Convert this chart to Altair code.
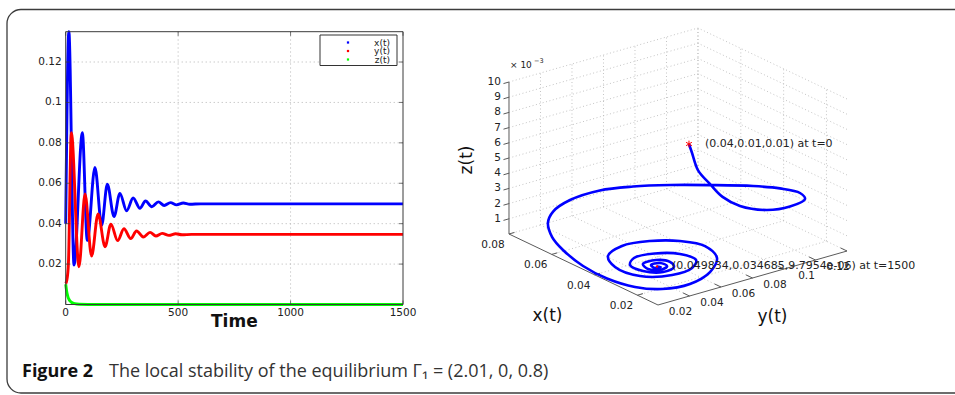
import altair as alt
import numpy as np
import pandas as pd

# ------------------------------------------------------------------
# Data
# ------------------------------------------------------------------
series_names = ["x(t)", "y(t)", "z(t)"]
series_colors = ["#0000ff", "#ff0000", "#00ff00"]

# x(t): start, peaks and troughs of the damped oscillation
t_x = [0, 14, 37, 74, 96, 130, 160, 185, 215, 241, 271, 300, 330, 355, 383, 412, 438, 466, 493, 523, 552, 600, 1500]
x_vals = [0.040, 0.142, 0.0195, 0.085, 0.0316, 0.0678, 0.0393, 0.0595, 0.0435, 0.0550, 0.0464, 0.0527,
          0.0476, 0.0512, 0.0484, 0.0508, 0.0490, 0.0504, 0.0493, 0.0502, 0.0496, 0.0498, 0.0498]

# y(t)
t_y = [0, 5, 12, 25, 59, 86, 115, 144, 175, 201, 231, 259, 289, 315, 345, 375, 401, 429, 459, 489, 517, 560, 1500]
y_vals = [0.0104, 0.012, 0.020, 0.085, 0.0187, 0.0547, 0.024, 0.0448, 0.0286, 0.0398, 0.0316, 0.0375,
          0.0326, 0.0364, 0.0334, 0.0357, 0.0339, 0.0352, 0.0342, 0.0350, 0.0345, 0.0347, 0.0347]

# z(t)
t_z = [0, 3, 6, 10, 15, 20, 27, 40, 60, 100, 1500]
z_vals = [0.0100, 0.0075, 0.0055, 0.0038, 0.0025, 0.0017, 0.0010, 0.0004, 0.0001, 0.00002, 0.0]

ticks_t = [0, 500, 1000, 1500]
ticks_v = [0.02, 0.04, 0.06, 0.08, 0.10, 0.12]
T_DOMAIN = [0, 1500]
V_DOMAIN = [0, 0.135]
time_title = "Time"

# 3-D phase portrait (x, y, z) as read against the drawn 3-D axes
traj_x = [0.0105, 0.0102, 0.0114, 0.0140, 0.0132, 0.0111, 0.0095, 0.0113, 0.0161, 0.0225, 0.0307, 0.0387,
          0.0487, 0.0576, 0.0650, 0.0703, 0.0715, 0.0730, 0.0688, 0.0622, 0.0561, 0.0465, 0.0351, 0.0255,
          0.0195, 0.0177, 0.0215, 0.0289, 0.0383, 0.0458, 0.0510, 0.0529, 0.0492, 0.0412, 0.0313, 0.0263,
          0.0271, 0.0313, 0.0378, 0.0425, 0.0434, 0.0398, 0.0339, 0.0297, 0.0309, 0.0347, 0.0383, 0.0382,
          0.0342, 0.0315, 0.0327, 0.0358, 0.0361, 0.0336, 0.0332, 0.0342]
traj_y = [0.0198, 0.0213, 0.0268, 0.0379, 0.0448, 0.0530, 0.0679, 0.0850, 0.1011, 0.1066, 0.1050, 0.0989,
          0.0851, 0.0718, 0.0584, 0.0445, 0.0272, 0.0185, 0.0095, 0.0032, 0.0018, 0.0015, 0.0012, 0.0059,
          0.0149, 0.0302, 0.0481, 0.0626, 0.0678, 0.0620, 0.0501, 0.0349, 0.0210, 0.0146, 0.0170, 0.0306,
          0.0443, 0.0526, 0.0512, 0.0417, 0.0296, 0.0222, 0.0224, 0.0295, 0.0380, 0.0406, 0.0367, 0.0282,
          0.0260, 0.0312, 0.0361, 0.0358, 0.0305, 0.0296, 0.0328, 0.0317]
traj_z = [0.0100, 0.0094, 0.0080, 0.0066, 0.0056, 0.0049, 0.0043, 0.0039, 0.0036, 0.0034, 0.0032, 0.0030,
          0.0028, 0.0026, 0.0024, 0.0022, 0.0020, 0.0014, 0.0012, 0.0009, 0.0005, 0.0001, 0.00005, 0.0,
          0.0, 0.0, 0.0, 0.0, 0.0, 0.0, 0.0, 0.0, 0.0, 0.0, 0.0, 0.0,
          0.0, 0.0, 0.0, 0.0, 0.0, 0.0, 0.0, 0.0, 0.0, 0.0, 0.0, 0.0,
          0.0, 0.0, 0.0, 0.0, 0.0, 0.0, 0.0, 0.0]

start_state = [0.04, 0.01, 0.01]
start_time = 0
end_state = [0.049834, 0.034685, 9.7954e-06]
end_time = 1500

box_x = [0.0104, 0.08]
box_y = [0.0, 0.12]
box_z = [0.0, 0.01]
ticks3_x = [0.02, 0.04, 0.06, 0.08]
ticks3_y = [0.02, 0.04, 0.06, 0.08, 0.10, 0.12]
ticks3_z = [0.001, 0.002, 0.003, 0.004, 0.005, 0.006, 0.007, 0.008, 0.009, 0.010]
axis3_titles = ["x(t)", "y(t)", "z(t)"]

caption_bold = "Figure 2"
caption_text = "The local stability of the equilibrium \u0393\u2081 = (2.01, 0, 0.8)"

# ------------------------------------------------------------------
# Layout / style
# ------------------------------------------------------------------
W, H = 955, 395
FONT = "DejaVu Sans"
CAP_FONT = "Open Sans, Noto Sans, DejaVu Sans"
TXT = "#222222"

L_LEFT, L_RIGHT, L_TOP, L_BOTTOM = 65.7, 403.0, 31.7, 304.5

# 3-D view (orthographic projection onto the page)
P0_U, P0_V = 658.0, 305.0          # page position of the front corner (x lo, y lo, z lo)
EX_U, EX_V = -2141.0, -1020.0      # page shift per unit of x
EY_U, EY_V = 1575.0, -450.0        # page shift per unit of y
EZ_V = -15200.0                    # page shift per unit of z

xs_left = alt.Scale(domain=T_DOMAIN, range=[L_LEFT, L_RIGHT], nice=False, zero=False)
ys_left = alt.Scale(domain=V_DOMAIN, range=[L_BOTTOM, L_TOP], nice=False, zero=False, clamp=True)
us = alt.Scale(domain=[0, W], range=[0, W], nice=False, zero=False)
vs = alt.Scale(domain=[0, H], range=[0, H], nice=False, zero=False)
color_scale = alt.Scale(domain=series_names, range=series_colors)


def proj(x, y, z):
    x = np.asarray(x, dtype=float)
    y = np.asarray(y, dtype=float)
    z = np.asarray(z, dtype=float)
    u = P0_U + (x - box_x[0]) * EX_U + (y - box_y[0]) * EY_U
    v = P0_V + (x - box_x[0]) * EX_V + (y - box_y[0]) * EY_V + (z - box_z[0]) * EZ_V
    return u, v


def seg_df(segs):
    a = np.array(segs, dtype=float)
    u1, v1 = proj(a[:, 0], a[:, 1], a[:, 2])
    u2, v2 = proj(a[:, 3], a[:, 4], a[:, 5])
    return pd.DataFrame({"u": u1, "v": v1, "u2": u2, "v2": v2})


def rules(df, **mk):
    return alt.Chart(df).mark_rule(**mk).encode(
        x=alt.X("u:Q", scale=us, axis=None),
        y=alt.Y("v:Q", scale=vs, axis=None),
        x2="u2:Q", y2="v2:Q")


def texts(df, **mk):
    return alt.Chart(df).mark_text(**mk).encode(
        x=alt.X("u:Q", scale=us, axis=None),
        y=alt.Y("v:Q", scale=vs, axis=None),
        text="label:N")


# ------------------------------------------------------------------
# Left panel: time series
# ------------------------------------------------------------------
ts = pd.concat([
    pd.DataFrame({"t": t_x, "v": x_vals, "series": series_names[0]}),
    pd.DataFrame({"t": t_y, "v": y_vals, "series": series_names[1]}),
    pd.DataFrame({"t": t_z, "v": z_vals, "series": series_names[2]}),
], ignore_index=True)

grid_v = pd.DataFrame({"t": ticks_t[1:-1], "v0": V_DOMAIN[0], "v1": V_DOMAIN[1]})
grid_h = pd.DataFrame({"v": ticks_v, "t0": T_DOMAIN[0], "t1": T_DOMAIN[1]})
frame = pd.DataFrame({"t0": [T_DOMAIN[0]], "t1": [T_DOMAIN[1]], "v0": [V_DOMAIN[0]], "v1": [V_DOMAIN[1]]})

gridv_layer = alt.Chart(grid_v).mark_rule(color="#b4b4b4", strokeDash=[1, 3], strokeWidth=1).encode(
    x=alt.X("t:Q", scale=xs_left, axis=None),
    y=alt.Y("v0:Q", scale=ys_left, axis=None), y2="v1:Q")
gridh_layer = alt.Chart(grid_h).mark_rule(color="#b4b4b4", strokeDash=[1, 3], strokeWidth=1).encode(
    y=alt.Y("v:Q", scale=ys_left, axis=None),
    x=alt.X("t0:Q", scale=xs_left, axis=None), x2="t1:Q")
frame_layer = alt.Chart(frame).mark_rect(filled=False, stroke="#3a3a3a", strokeWidth=1).encode(
    x=alt.X("t0:Q", scale=xs_left, axis=None), x2="t1:Q",
    y=alt.Y("v0:Q", scale=ys_left, axis=None), y2="v1:Q")

tdf = pd.DataFrame({"t": ticks_t, "label": [f"{t:d}" for t in ticks_t]})
vdf = pd.DataFrame({"v": ticks_v, "label": [f"{v:g}" for v in ticks_v]})
tick_bottom = alt.Chart(tdf).mark_tick(orient="vertical", size=4, thickness=1, color="#3a3a3a", yOffset=-2).encode(
    x=alt.X("t:Q", scale=xs_left, axis=None),
    y=alt.YDatum(V_DOMAIN[0], type="quantitative", scale=ys_left, axis=None))
tick_top = alt.Chart(tdf).mark_tick(orient="vertical", size=4, thickness=1, color="#3a3a3a", yOffset=2).encode(
    x=alt.X("t:Q", scale=xs_left, axis=None),
    y=alt.YDatum(V_DOMAIN[1], type="quantitative", scale=ys_left, axis=None))
tick_left = alt.Chart(vdf).mark_tick(orient="horizontal", size=4, thickness=1, color="#3a3a3a", xOffset=2).encode(
    y=alt.Y("v:Q", scale=ys_left, axis=None),
    x=alt.XDatum(T_DOMAIN[0], type="quantitative", scale=xs_left, axis=None))
tick_right = alt.Chart(vdf).mark_tick(orient="horizontal", size=4, thickness=1, color="#3a3a3a", xOffset=-2).encode(
    y=alt.Y("v:Q", scale=ys_left, axis=None),
    x=alt.XDatum(T_DOMAIN[1], type="quantitative", scale=xs_left, axis=None))

xlabels_left = alt.Chart(tdf).mark_text(align="center", baseline="top", dy=3.5, font=FONT, fontSize=10.5,
                                        color=TXT).encode(
    x=alt.X("t:Q", scale=xs_left, axis=None),
    y=alt.YDatum(V_DOMAIN[0], type="quantitative", scale=ys_left, axis=None),
    text="label:N")
ylabels_left = alt.Chart(vdf).mark_text(align="right", baseline="middle", dx=-4, font=FONT, fontSize=10.5,
                                        color=TXT).encode(
    y=alt.Y("v:Q", scale=ys_left, axis=None),
    x=alt.XDatum(T_DOMAIN[0], type="quantitative", scale=xs_left, axis=None),
    text="label:N")
title_left = alt.Chart(pd.DataFrame({"label": [time_title]})).mark_text(
    align="center", baseline="alphabetic", dy=22.5, font=FONT, fontSize=17, fontWeight="bold",
    color="#111111").encode(
    x=alt.XDatum(sum(T_DOMAIN) / 2, type="quantitative", scale=xs_left, axis=None),
    y=alt.YDatum(V_DOMAIN[0], type="quantitative", scale=ys_left, axis=None),
    text="label:N")

lines_layer = alt.Chart(ts).mark_line(strokeWidth=2.9, interpolate="monotone").encode(
    x=alt.X("t:Q", scale=xs_left, axis=None),
    y=alt.Y("v:Q", scale=ys_left, axis=None),
    color=alt.Color("series:N", scale=color_scale, legend=None),
)

left_panel = alt.layer(gridv_layer, gridh_layer, lines_layer, frame_layer,
                       tick_bottom, tick_top, tick_left, tick_right,
                       xlabels_left, ylabels_left, title_left)

# legend box (MATLAB style, top-right corner of the left axes)
leg_df = pd.DataFrame({"series": series_names})
leg_y = alt.Scale(type="point", domain=series_names, range=[42.5, 59.5], padding=0)
leg_box = alt.Chart(pd.DataFrame({"a": [0]})).mark_rect(fill="white", stroke="#333333", strokeWidth=1).encode(
    x=alt.value(320), x2=alt.value(397), y=alt.value(35), y2=alt.value(65.5))
leg_sym = alt.Chart(leg_df).mark_square(size=5, opacity=1).encode(
    x=alt.value(348), y=alt.Y("series:N", scale=leg_y, axis=None),
    color=alt.Color("series:N", scale=color_scale, legend=None))
leg_txt = alt.Chart(leg_df).mark_text(align="right", baseline="middle", font=FONT, fontSize=9, color=TXT).encode(
    x=alt.value(390), y=alt.Y("series:N", scale=leg_y, axis=None), text="series:N")
legend_panel = alt.layer(leg_box, leg_sym, leg_txt)

# ------------------------------------------------------------------
# Right panel: 3-D phase portrait
# ------------------------------------------------------------------
x0, x1 = box_x
y0, y1 = box_y
z0, z1 = box_z

grid_segs = []
for xt in ticks3_x:
    grid_segs.append((xt, y0, z0, xt, y1, z0))   # floor
    grid_segs.append((xt, y1, z0, xt, y1, z1))   # back wall
for yt in ticks3_y:
    grid_segs.append((x0, yt, z0, x1, yt, z0))   # floor
    grid_segs.append((x1, yt, z0, x1, yt, z1))   # left wall
for zt in ticks3_z:
    grid_segs.append((x1, y0, zt, x1, y1, zt))   # left wall
    grid_segs.append((x0, y1, zt, x1, y1, zt))   # back wall

axis_segs = [(x0, y0, z0, x1, y0, z0), (x0, y0, z0, x0, y1, z0), (x1, y0, z0, x1, y0, z1)]

tick_segs = ([(xt, y0, z0, xt, y0 + 0.0035, z0) for xt in ticks3_x] +
             [(x0, yt, z0, x0 + 0.003, yt, z0) for yt in ticks3_y] +
             [(x1, y0, zt, x1, y0 - 0.0035, zt) for zt in ticks3_z])

u_, v_ = proj(ticks3_x, [y0] * len(ticks3_x), [z0] * len(ticks3_x))
xlab = pd.DataFrame({"u": u_, "v": v_, "label": [f"{t:g}" for t in ticks3_x]})
u_, v_ = proj([x0] * len(ticks3_y), ticks3_y, [z0] * len(ticks3_y))
ylab = pd.DataFrame({"u": u_, "v": v_, "label": [f"{t:g}" for t in ticks3_y]})
u_, v_ = proj([x1] * len(ticks3_z), [y0] * len(ticks3_z), ticks3_z)
zlab = pd.DataFrame({"u": u_, "v": v_, "label": [f"{t * 1000:g}" for t in ticks3_z]})

u_, v_ = proj([x1], [y0], [z1])
zexp = pd.DataFrame({"u": u_, "v": v_, "label": ["\u00d7 10"]})
zexp_sup = pd.DataFrame({"u": u_, "v": v_, "label": ["\u22123"]})

u_, v_ = proj([(x0 + x1) / 2], [y0], [z0])
xtitle = pd.DataFrame({"u": u_, "v": v_, "label": [axis3_titles[0]]})
u_, v_ = proj([x0], [(y0 + y1) / 2], [z0])
ytitle = pd.DataFrame({"u": u_, "v": v_, "label": [axis3_titles[1]]})
u_, v_ = proj([x1], [y0], [(z0 + z1) / 2])
ztitle = pd.DataFrame({"u": u_, "v": v_, "label": [axis3_titles[2]]})

tu, tv = proj(traj_x, traj_y, traj_z)
traj = pd.DataFrame({"u": tu, "v": tv, "i": np.arange(len(tu))})
start_df = traj.iloc[[0]].assign(
    label=f"({start_state[0]:g},{start_state[1]:g},{start_state[2]:g}) at t={start_time}")
end_df = traj.iloc[[-1]].assign(
    label=f"({end_state[0]:g},{end_state[1]:g},{end_state[2]:g}) at t={end_time}")

ASTERISK = "M0,-1L0,1M-0.866,-0.5L0.866,0.5M-0.866,0.5L0.866,-0.5"

traj_layer = alt.Chart(traj).mark_line(color="#0000ff", strokeWidth=2.6, interpolate="catmull-rom").encode(
    x=alt.X("u:Q", scale=us, axis=None), y=alt.Y("v:Q", scale=vs, axis=None), order="i:Q")
start_mark = alt.Chart(start_df).mark_point(shape=ASTERISK, size=45, stroke="#ff0000", strokeWidth=1,
                                            filled=False, opacity=1).encode(
    x=alt.X("u:Q", scale=us, axis=None), y=alt.Y("v:Q", scale=vs, axis=None))
end_mark = alt.Chart(end_df).mark_point(shape="circle", size=6, color="#ff0000", filled=True, opacity=1).encode(
    x=alt.X("u:Q", scale=us, axis=None), y=alt.Y("v:Q", scale=vs, axis=None))

right_panel = alt.layer(
    rules(seg_df(grid_segs), color="#bdbdbd", strokeDash=[1, 2.5], strokeWidth=0.9),
    rules(seg_df(axis_segs), color="#5a5a5a", strokeWidth=1),
    rules(seg_df(tick_segs), color="#5a5a5a", strokeWidth=1),
    texts(xlab, align="center", baseline="middle", dx=-16, dy=11, font=FONT, fontSize=10.5, color=TXT),
    texts(ylab, align="center", baseline="middle", dx=-9, dy=16, font=FONT, fontSize=10.5, color=TXT),
    texts(zlab, align="right", baseline="middle", dx=-8, dy=0, font=FONT, fontSize=10.5, color=TXT),
    texts(zexp, align="left", baseline="middle", dx=1, dy=-17, font=FONT, fontSize=9, color=TXT),
    texts(zexp_sup, align="left", baseline="middle", dx=25, dy=-21, font=FONT, fontSize=6.5, color=TXT),
    texts(xtitle, align="center", baseline="middle", dx=-36, dy=46, font=FONT, fontSize=17, color="#111111"),
    texts(ytitle, align="center", baseline="middle", dx=20, dy=39, font=FONT, fontSize=17, color="#111111"),
    texts(ztitle, align="center", baseline="middle", angle=270, dx=-2, dy=-42, font=FONT, fontSize=17,
          color="#111111"),
    traj_layer,
    start_mark,
    end_mark,
    texts(start_df, align="left", baseline="middle", dx=16, font=FONT, fontSize=11, color=TXT),
    texts(end_df, align="left", baseline="middle", dx=15, font=FONT, fontSize=11, color=TXT),
)

# ------------------------------------------------------------------
# Figure frame and caption
# ------------------------------------------------------------------
one = pd.DataFrame({"a": [0]})
border = alt.Chart(one).mark_rect(filled=False, stroke="#3c3c3c", strokeWidth=1.3, cornerRadius=14).encode(
    x=alt.value(7), x2=alt.value(985), y=alt.value(9.5), y2=alt.value(393))
cap1 = alt.Chart(one).mark_text(text=caption_bold, align="left", baseline="alphabetic", font=CAP_FONT,
                                fontSize=18, fontWeight="bold", color="#111111").encode(
    x=alt.value(22), y=alt.value(377))
cap2 = alt.Chart(one).mark_text(text=caption_text, align="left", baseline="alphabetic", font=CAP_FONT,
                                fontSize=18, color="#333333").encode(
    x=alt.value(109), y=alt.value(377))

chart = alt.layer(left_panel, legend_panel, right_panel, border, cap1, cap2).resolve_scale(
    x="independent", y="independent", color="independent"
).properties(
    width=W, height=H, padding=0, autosize=alt.AutoSizeParams(type="none"),
    background="white"
).configure_view(stroke=None)

chart.save("out.html", embed_options={"renderer": "svg", "actions": False})
